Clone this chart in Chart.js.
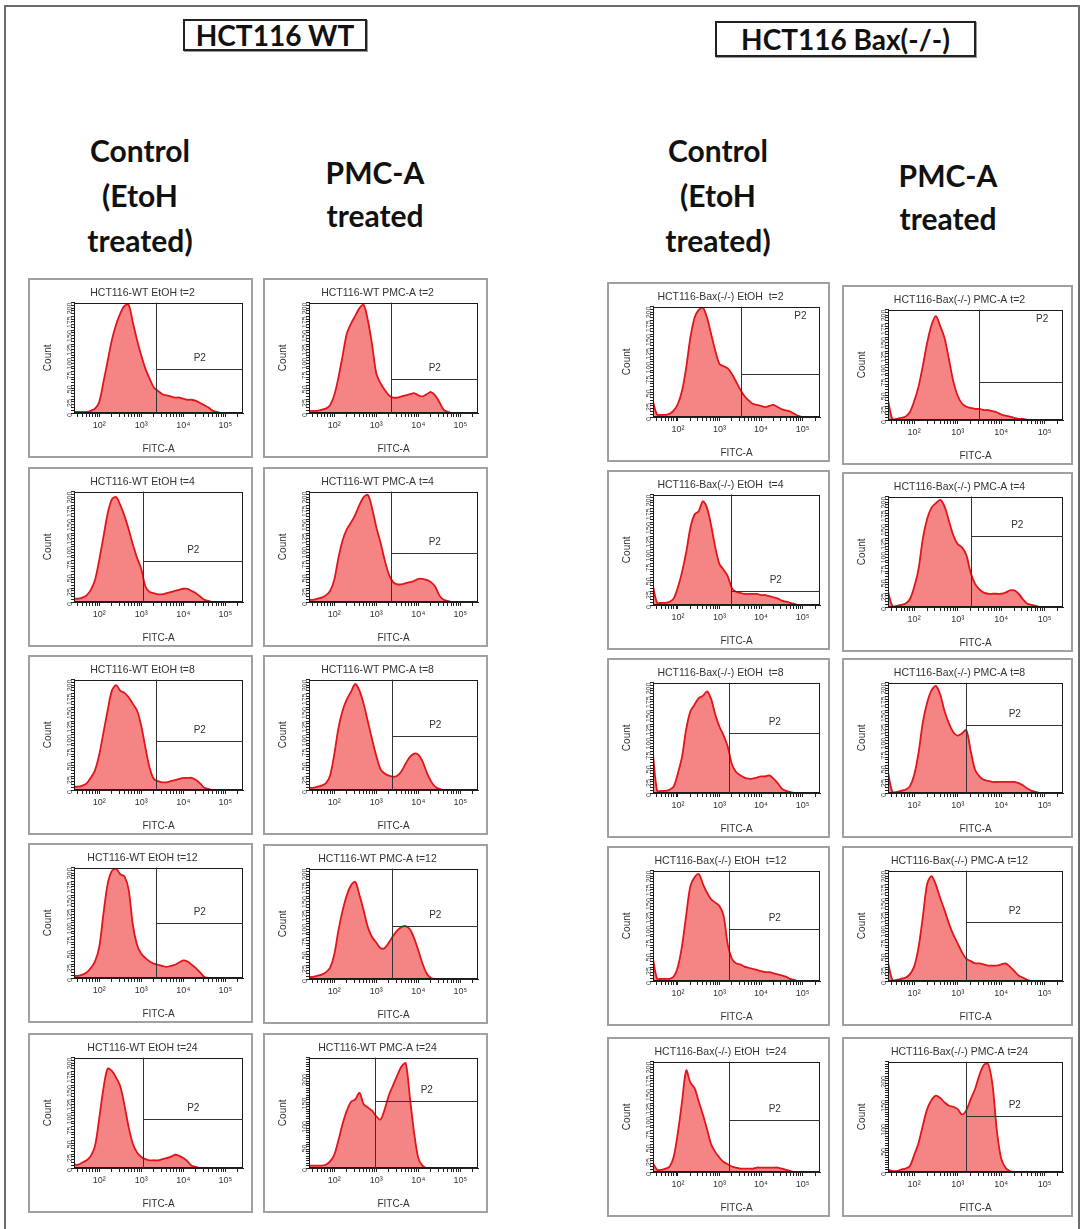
<!DOCTYPE html>
<html>
<head>
<meta charset="utf-8">
<script src="https://cdn.jsdelivr.net/npm/chart.js@4.4.1/dist/chart.umd.min.js"></script>
<style>
  body { margin: 0; background: #fff; }
  #page { position: relative; width: 1081px; height: 1229px; overflow: hidden; background: #fff; }
  #frame { position: absolute; left: 4px; top: 5px; width: 1072px; height: 1240px; border: 2px solid #6d6d6d; }
  .hdr { position: absolute; border: 2px solid #222; box-shadow: 1px 1px 0 #999; font: 700 28px Lato, "DejaVu Sans", sans-serif;
         text-align: center; color: #111; box-sizing: border-box; }
  .sub { position: absolute; font: 700 30px Lato, "DejaVu Sans", sans-serif; text-align: center; color: #111;
         transform: translateX(-50%); white-space: nowrap; }
  .panel { position: absolute; border: 2px solid #a0a0a0; box-sizing: border-box; background: #fff; }
  .panel canvas { display: block; }
</style>
</head>
<body>
<div id="page">
  <div id="frame"></div>
  <div class="hdr" style="left:183px;top:19px;width:184px;height:32px;line-height:28px">HCT116 WT</div>
  <div class="hdr" style="left:715px;top:21px;width:261px;height:36px;line-height:32px">HCT116 Bax(-/-)</div>

  <div class="sub" style="left:140px;top:128px;line-height:45px">Control<br>(EtoH<br>treated)</div>
  <div class="sub" style="left:375px;top:151px;line-height:43px">PMC-A<br>treated</div>
  <div class="sub" style="left:718px;top:128px;line-height:45px">Control<br>(EtoH<br>treated)</div>
  <div class="sub" style="left:948px;top:154px;line-height:43px">PMC-A<br>treated</div>
</div>

<script>
// log10 of FITC-A intensity at each histogram bin
var logX = [1.4,1.5,1.6,1.7,1.8,1.9,2.0,2.1,2.2,2.3,2.4,2.5,2.6,2.7,2.8,2.9,3.0,3.1,3.2,3.3,
            3.4,3.5,3.6,3.7,3.8,3.9,4.0,4.1,4.2,4.3,4.4,4.5,4.6,4.7,4.8,4.9,5.0,5.1,5.2,5.3,5.4];
var xTickLabels = ['10\u00b2', '10\u00b3', '10\u2074', '10\u2075'];   // 10^2 .. 10^5
var timePoints = ['t=2', 't=4', 't=8', 't=12', 't=24'];
var panelNames = ['HCT116-WT EtOH ', 'HCT116-WT PMC-A ', 'HCT116-Bax(-/-) EtOH  ', 'HCT116-Bax(-/-) PMC-A '];

// counts per bin, one row per time point
var wtEtoh = [
  [2,2,2,2,4,8,20,56,94,132,160,180,194,196,164,132,104,80,62,46,40,34,32,30,28,28,26,24,24,22,18,14,10,4,2,0,0,0,0,0,0],
  [6,6,8,12,22,40,76,118,160,186,190,176,156,132,104,80,60,28,18,16,14,14,16,18,20,22,24,24,20,16,10,4,2,0,0,0,0,0,0,0,0],
  [6,6,8,12,22,36,64,104,144,180,190,180,176,168,156,144,116,76,40,20,16,14,14,16,18,20,22,22,22,18,12,4,2,0,0,0,0,0,0,0,0],
  [4,4,6,10,18,30,56,116,170,194,198,188,184,160,96,60,44,36,30,26,24,22,20,22,24,28,32,30,24,18,10,2,0,0,0,0,0,0,0,0,0],
  [6,6,10,14,22,40,90,144,180,176,164,148,114,74,44,28,20,16,14,14,14,16,18,20,24,22,18,12,4,2,0,0,0,0,0,0,0,0,0,0,0]
];
var wtPmc = [
  [4,4,4,6,8,14,32,64,104,144,162,176,190,196,168,124,72,54,42,32,28,28,30,32,34,36,32,30,34,38,32,20,6,2,0,0,0,0,0,0,0],
  [4,4,6,8,12,20,40,80,112,132,144,158,176,190,194,170,136,108,76,50,36,32,32,34,36,38,42,42,40,36,28,12,4,2,0,0,0,0,0,0,0],
  [4,4,6,8,12,26,64,112,144,164,178,192,180,156,124,92,62,38,30,26,24,26,34,48,60,66,64,52,32,16,6,2,0,0,0,0,0,0,0,0,0],
  [4,4,6,8,12,20,44,88,124,152,170,176,152,124,94,76,66,56,56,66,78,88,94,96,90,74,52,28,10,2,0,0,0,0,0,0,0,0,0,0,0],
  [5,5,5,5,7,14,28,59,94,122,141,146,160,136,129,122,110,103,125,155,176,197,216,223,150,75,21,5,0,0,0,0,0,0,0,0,0,0,0,0,0]
];
var baxEtoh = [
  [28,4,4,4,6,12,24,48,90,144,180,194,198,180,150,120,96,92,88,78,64,50,38,30,24,22,20,18,20,22,18,14,12,10,6,2,0,0,0,0,0],
  [34,4,4,4,6,12,32,60,96,140,164,170,188,176,144,104,74,64,52,30,24,22,20,20,20,20,18,18,16,14,12,8,6,4,2,0,0,0,0,0,0],
  [70,4,4,4,6,12,36,66,116,148,160,172,176,184,170,142,120,104,84,52,38,32,28,26,26,28,30,30,32,26,18,8,4,2,0,0,0,0,0,0,0],
  [40,4,4,4,4,8,26,64,120,172,188,194,176,160,148,142,136,118,66,40,32,30,26,24,22,20,18,16,16,14,12,10,8,4,2,0,0,0,0,0,0],
  [16,4,4,6,10,28,72,128,184,162,152,128,104,78,50,36,26,18,14,10,8,6,6,6,6,8,8,8,8,8,8,6,4,2,0,0,0,0,0,0,0]
];
var baxPmc = [
  [36,2,2,4,6,14,34,60,98,140,172,188,170,148,110,70,44,30,24,22,20,20,18,18,16,14,10,8,6,4,2,2,0,0,0,0,0,0,0,0,0],
  [28,2,2,4,6,14,36,68,124,160,180,188,194,182,156,130,114,108,94,62,42,32,26,24,24,24,24,26,30,30,24,14,6,4,2,0,0,0,0,0,0],
  [38,2,2,4,6,12,32,72,128,164,186,194,178,148,126,110,104,108,114,76,42,30,24,22,20,20,20,20,20,20,18,14,8,4,2,0,0,0,0,0,0],
  [34,2,2,4,6,12,26,60,116,176,190,174,150,128,104,84,68,52,40,36,32,32,30,28,28,28,30,32,26,18,10,6,2,0,0,0,0,0,0,0,0],
  [5,2,2,5,7,12,35,60,97,131,150,159,154,145,138,136,131,120,129,152,173,202,223,225,182,87,28,9,2,0,0,0,0,0,0,0,0,0,0,0,0]
];

// y axis top (count), y label step, and P2 gate corner (log FITC-A, count) per panel
var yMax  = [[200,200,200,200,200],[200,200,200,200,235],[200,200,200,200,200],[200,200,200,200,230]];
var yLabelStep = [[25,25,25,25,25],[25,25,25,25,50],[25,25,25,25,25],[25,25,25,25,50]];
var gateX = [[3.35,3.03,3.35,3.35,3.03],[3.36,3.36,3.38,3.38,2.97],[3.52,3.28,3.22,3.22,3.22],[3.49,3.31,3.19,3.19,3.19]];
var gateY = [[80,74,88,100,88],[62,88,98,96,143],[78,26,108,94,94],[68,128,124,106,117]];

var series = [wtEtoh, wtPmc, baxEtoh, baxPmc];

// page layout of the 4 x 5 panel grid
var colLeft = [28, 263, 607, 842];
var colWidth = [225, 225, 223, 231];
var rowTop = [[278,467,655,843,1033],[278,467,655,844,1033],[282,470,658,846,1037],[285,472,658,846,1037]];
var panelH = 180;
var p2AtTop = [[0,0,0,0,0],[0,0,0,0,0],[1,0,0,0,0],[1,0,0,0,0]];

var FONT = '"Liberation Sans", "DejaVu Sans", Arial, sans-serif';
Chart.defaults.font.family = FONT;
Chart.defaults.color = '#333';

var gatePlugin = {
  id: 'gate',
  afterDatasetsDraw: function(chart, args, opts) {
    var ctx = chart.ctx, a = chart.chartArea;
    var gx = Math.round(chart.scales.x.getPixelForValue(opts.x)) + 0.5;
    var gy = Math.round(chart.scales.y.getPixelForValue(opts.y)) + 0.5;
    ctx.save();
    ctx.strokeStyle = '#1a1a1a';
    ctx.lineWidth = 1;
    ctx.strokeRect(Math.round(a.left) + 0.5, Math.round(a.top) + 0.5,
                   Math.round(a.right - a.left) - 1, Math.round(a.bottom - a.top) - 1);
    ctx.strokeStyle = '#333';
    ctx.beginPath();
    ctx.moveTo(gx, a.bottom); ctx.lineTo(gx, a.top);
    ctx.moveTo(gx, gy); ctx.lineTo(a.right, gy);
    ctx.stroke();
    ctx.fillStyle = '#333';
    ctx.font = '10px ' + FONT;
    ctx.textAlign = 'center';
    ctx.textBaseline = 'middle';
    if (opts.top) ctx.fillText('P2', gx + (a.right - gx) * 0.75, a.top + 10);
    else ctx.fillText('P2', (gx + a.right) / 2, gy - 11);
    ctx.restore();
  }
};

function buildPanel(c, r) {
  var div = document.createElement('div');
  div.className = 'panel';
  div.style.left = colLeft[c] + 'px';
  div.style.top = rowTop[c][r] + 'px';
  div.style.width = colWidth[c] + 'px';
  div.style.height = panelH + 'px';
  var cv = document.createElement('canvas');
  cv.width = colWidth[c] - 4;
  cv.height = panelH - 4;
  div.appendChild(cv);
  document.getElementById('page').appendChild(div);

  var pts = logX.map(function(x, i) { return { x: x, y: series[c][r][i] }; });
  var step = yLabelStep[c][r];

  new Chart(cv, {
    type: 'line',
    data: {
      datasets: [{
        data: pts,
        fill: 'origin',
        backgroundColor: 'rgba(244, 116, 116, 0.88)',
        borderColor: '#e3141a',
        borderWidth: 1.8,
        pointRadius: 0,
        tension: 0.3
      }]
    },
    options: {
      responsive: false,
      animation: false,
      devicePixelRatio: 1,
      layout: { padding: { left: 12, right: 8, top: 7, bottom: 1 } },
      plugins: {
        legend: { display: false },
        tooltip: { enabled: false },
        title: {
          display: true,
          text: panelNames[c] + timePoints[r],
          color: '#333',
          font: { size: 10.5, weight: 'normal' },
          padding: { top: 0, bottom: 3 }
        },
        gate: { x: gateX[c][r], y: gateY[c][r], top: p2AtTop[c][r] }
      },
      scales: {
        x: {
          type: 'linear',
          min: 1.4,
          max: 5.42,
          afterBuildTicks: function(scale) {
            var t = [];
            for (var n = 1; n <= 5; n++) {
              for (var k = 1; k <= 9; k++) {
                var v = n + Math.log10(k);
                if (v >= 1.4 && v <= 5.42) t.push({ value: v });
              }
            }
            scale.ticks = t;
          },
          afterFit: function(scale) { scale.height = 42; },
          ticks: {
            autoSkip: false,
            maxRotation: 0,
            padding: 3,
            color: '#333',
            font: { size: 9 },
            callback: function(v) {
              var n = Math.round(v);
              return Math.abs(v - n) < 1e-6 ? xTickLabels[n - 2] : '';
            }
          },
          grid: { display: true, drawOnChartArea: false, drawTicks: true, tickLength: 4, color: '#222' },
          border: { display: true, color: '#222' },
          title: { display: true, text: 'FITC-A', color: '#333', font: { size: 10 }, padding: { top: 0, bottom: 0 } }
        },
        y: {
          min: 0,
          max: yMax[c][r],
          afterFit: function(scale) { scale.width = 32; },
          ticks: {
            stepSize: 5,
            autoSkip: false,
            minRotation: 90,
            maxRotation: 90,
            padding: 1,
            color: '#444',
            font: { size: 7 },
            callback: function(v) { return v % step === 0 ? String(v) : ''; }
          },
          grid: { display: true, drawOnChartArea: false, drawTicks: true, tickLength: 3, color: '#222' },
          border: { display: true, color: '#222' },
          title: { display: true, text: 'Count', color: '#333', font: { size: 10 }, padding: { top: 0, bottom: 0 } }
        }
      }
    },
    plugins: [gatePlugin]
  });
}

for (var c = 0; c < 4; c++) {
  for (var r = 0; r < 5; r++) buildPanel(c, r);
}
</script>
</body>
</html>
